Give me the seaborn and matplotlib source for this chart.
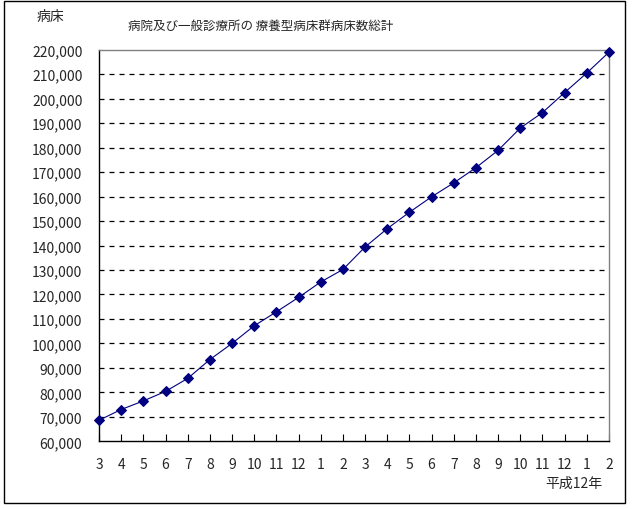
import numpy as np
import pandas as pd
import matplotlib
matplotlib.use("Agg")
import matplotlib.pyplot as plt
import seaborn as sns
from matplotlib.patches import Rectangle
from matplotlib.ticker import FuncFormatter

sns.set_style("white")
plt.rcParams['font.family'] = ['Noto Sans CJK JP', 'DejaVu Sans']

# Data: monthly totals of long-term care beds
months = ["3", "4", "5", "6", "7", "8", "9", "10", "11", "12",
          "1", "2", "3", "4", "5", "6", "7", "8", "9", "10", "11", "12",
          "1", "2"]
beds = [68600, 73000, 76500, 80400, 85700, 93400, 100000, 107200, 112900,
        118800, 125100, 130200, 139400, 146900, 153600, 159900, 165600,
        171800, 178900, 188000, 194300, 202500, 210500, 219000]

df = pd.DataFrame({"pos": np.arange(len(months)), "beds": beds})

fig = plt.figure(figsize=(6.33, 5.10), dpi=100)
ax = fig.add_axes([0.1564, 0.1327, 0.8057, 0.7679])

sns.lineplot(data=df, x="pos", y="beds", ax=ax, color="#000080",
             linewidth=0.8, marker="D", markersize=4.8,
             markeredgecolor="#000080", markerfacecolor="#000080",
             clip_on=False, zorder=5)

ax.set_xlim(0, len(months) - 1)
ax.set_ylim(60000, 220000)
ax.set_yticks(np.arange(60000, 220001, 10000))
ax.yaxis.set_major_formatter(FuncFormatter(lambda v, p: f"{int(v):,}"))
ax.set_xticks(df["pos"])
ax.set_xticklabels(months)
ax.set_xlabel("")
ax.set_ylabel("")

for v in range(70000, 220000, 10000):
    ax.axhline(v, color="black", linewidth=0.9, linestyle=(0, (4, 4)), zorder=0)

ax.tick_params(axis="x", direction="in", length=5, width=0.8, color="black",
               pad=11, labelsize=10, bottom=True)
ax.tick_params(axis="y", length=0, pad=12, labelsize=10)

ax.spines["left"].set_color("black")
ax.spines["bottom"].set_color("black")
ax.spines["top"].set_color("#808080")
ax.spines["right"].set_color("#808080")
for s in ax.spines.values():
    s.set_linewidth(1.0)

fig.text(0.411, 0.949, "病院及び一般診療所の 療養型病床群病床数総計",
         ha="center", va="center", fontsize=9)
fig.text(0.079, 0.967, "病床", ha="center", va="center", fontsize=10)
fig.text(0.907, 0.052, "平成12年", ha="center", va="center", fontsize=10)

fig.patches.append(Rectangle((0.006, 0.012), 0.982, 0.984,
                             transform=fig.transFigure, fill=False,
                             edgecolor="black", linewidth=1.0))

fig.savefig("out.png", dpi=100)
